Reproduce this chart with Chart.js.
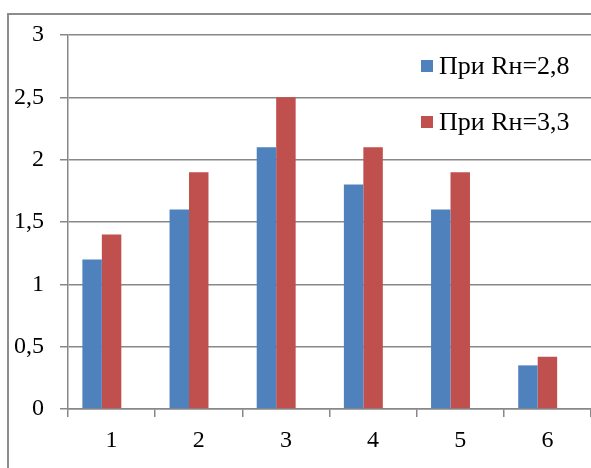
<!DOCTYPE html>
<html>
<head>
<meta charset="utf-8">
<script src="https://cdn.jsdelivr.net/npm/chart.js@4/dist/chart.umd.min.js"></script>
<style>
  html, body { margin: 0; padding: 0; background: #fff; overflow: hidden; }
  #wrap { position: relative; width: 591px; height: 468px; }
  #frame { position: absolute; left: 7px; top: 13px; width: 700px; height: 600px; border: 2px solid #8c8c8c; box-sizing: border-box; }
  canvas { position: absolute; left: 0; top: 0; }
</style>
</head>
<body>
<div id="wrap">
  <div id="frame"></div>
  <canvas id="myChart" width="591" height="468"></canvas>
</div>
<script>
var categories = ["1", "2", "3", "4", "5", "6"];
var seriesNames = ["При Rн=2,8", "При Rн=3,3"];
var values28 = [1.2, 1.6, 2.1, 1.8, 1.6, 0.35];
var values33 = [1.4, 1.9, 2.5, 2.1, 1.9, 0.42];
// empty third series in the source workbook: it still takes a slot in each group
var valuesEmpty = [null, null, null, null, null, null];
var barColors = ["#4f81bd", "#c0504d"];

var font = "'Liberation Serif', 'DejaVu Serif', serif";

// legend sits inside the plot, top right, no background
var insideLegend = {
    id: "insideLegend",
    afterDraw: function (chart) {
        var ctx = chart.ctx;
        ctx.save();
        ctx.font = "26px " + font;
        ctx.textBaseline = "middle";
        chart.data.datasets.forEach(function (ds, i) {
            if (!ds.label) return;
            var y = 66 + i * 56;
            ctx.fillStyle = ds.backgroundColor;
            ctx.fillRect(421, y - 6, 12, 12);
            ctx.fillStyle = "#000";
            ctx.fillText(ds.label, 439, y + 1);
        });
        ctx.restore();
    }
};

function draw() {
    new Chart("myChart", {
        type: "bar",
        data: {
            labels: categories,
            datasets: [{
                label: seriesNames[0],
                backgroundColor: barColors[0],
                data: values28
            }, {
                label: seriesNames[1],
                backgroundColor: barColors[1],
                data: values33
            }, {
                label: "",
                backgroundColor: "rgba(0,0,0,0)",
                data: valuesEmpty
            }]
        },
        options: {
            responsive: false,
            animation: false,
            layout: { padding: { top: 35, right: 0, left: 0, bottom: 0 } },
            datasets: { bar: { barPercentage: 1, categoryPercentage: 0.67 } },
            plugins: {
                legend: { display: false },
                tooltip: { enabled: false }
            },
            scales: {
                x: {
                    afterFit: function (s) { s.height = 59; },
                    border: { color: "#888", width: 1.5 },
                    grid: { offset: true, drawOnChartArea: false, drawTicks: true, tickLength: 8, color: "#888", lineWidth: 1.5 },
                    ticks: { color: "#000", padding: 9, font: { family: font, size: 24 } }
                },
                y: {
                    min: 0,
                    max: 3,
                    afterFit: function (s) { s.width = 68; },
                    border: { color: "#888", width: 1.5 },
                    grid: { color: "#888", lineWidth: 1.5, tickLength: 8 },
                    ticks: {
                        stepSize: 0.5,
                        color: "#000",
                        padding: 16,
                        font: { family: font, size: 24 },
                        callback: function (v) { return String(v).replace(".", ","); }
                    }
                }
            }
        },
        plugins: [insideLegend]
    });
}

if (document.fonts && document.fonts.load) {
    Promise.all([
        document.fonts.load("24px 'Liberation Serif'"),
        document.fonts.load("26px 'Liberation Serif'")
    ]).then(draw, draw);
} else {
    draw();
}
</script>
</body>
</html>
